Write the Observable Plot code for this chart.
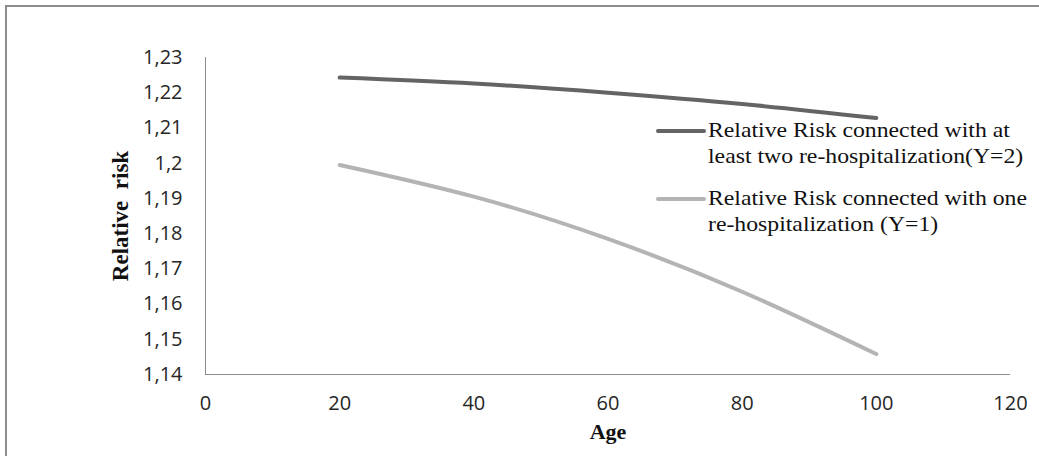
<!DOCTYPE html>
<html>
<head>
<meta charset="utf-8">
<script src="https://cdn.jsdelivr.net/npm/d3@7"></script>
<script src="https://cdn.jsdelivr.net/npm/@observablehq/plot@0.6"></script>
<style>
  html, body { margin: 0; padding: 0; background: #fff; }
  #wrap { position: relative; width: 1039px; height: 456px; overflow: hidden; background: #fff; }
  #frame { position: absolute; left: 5px; top: 5px; width: 1040px; height: 460px; border-left: 2px solid #8c8c8c; border-top: 2px solid #8c8c8c; box-sizing: border-box; }
  .leg { position: absolute; font-family: "Liberation Serif", "Times New Roman", serif; font-size: 21px; line-height: 26px; color: #111; white-space: nowrap; transform: scaleX(1.13); transform-origin: left top; }
  .sw { position: absolute; height: 4px; width: 50px; border-radius: 2px; }
  #chart { position: absolute; left: 0; top: 0; }
</style>
</head>
<body>
<div id="wrap">
  <div id="chart"></div>
  <div id="frame"></div>
  <div id="legend"></div>
</div>
<script>
const ages = [20, 40, 60, 80, 100];
const riskTwo = [1.2243, 1.2226, 1.2200, 1.2168, 1.2128];
const riskOne = [1.1995, 1.1905, 1.1785, 1.1635, 1.1458];
const seriesNames = [
  "Relative Risk connected with at least two re-hospitalization(Y=2)",
  "Relative Risk connected with one re-hospitalization (Y=1)"
];
const legendLines = [
  ["Relative Risk connected with at", "least two re-hospitalization(Y=2)"],
  ["Relative Risk connected with one", "re-hospitalization (Y=1)"]
];
const seriesColors = ["#646464", "#b4b4b4"];
const xTicks = [0, 20, 40, 60, 80, 100, 120];
const yTicks = [1.14, 1.15, 1.16, 1.17, 1.18, 1.19, 1.20, 1.21, 1.22, 1.23];

const rows = [];
ages.forEach((a, i) => {
  rows.push({age: a, risk: riskTwo[i], s: seriesNames[0]});
  rows.push({age: a, risk: riskOne[i], s: seriesNames[1]});
});

const fmt = d => String(+d.toFixed(2)).replace(".", ",");

const chart = Plot.plot({
  width: 1039,
  height: 456,
  marginLeft: 205,
  marginRight: 29,
  marginTop: 57,
  marginBottom: 82,
  style: {background: "transparent", fontFamily: "'Open Sans', sans-serif"},
  x: {domain: [0, 120]},
  y: {domain: [1.14, 1.23]},
  color: {domain: seriesNames, range: seriesColors},
  marks: [
    Plot.axisX({ticks: xTicks, tickSize: 0, tickPadding: 21, fontSize: 20, tickFormat: d => String(d), label: null, fill: "#262626"}),
    Plot.axisY({ticks: yTicks, tickSize: 0, tickPadding: 23, fontSize: 20, tickFormat: fmt, label: null, fill: "#262626"}),
    Plot.ruleX([0], {stroke: "#8c8c8c", strokeWidth: 1}),
    Plot.ruleY([1.14], {stroke: "#8c8c8c", strokeWidth: 1}),
    Plot.line(rows, {x: "age", y: "risk", z: "s", stroke: "s", strokeWidth: 4, curve: "natural", strokeLinecap: "round"}),
    Plot.text(["Relative  risk"], {frameAnchor: "left", rotate: -90, dx: -85, textAnchor: "middle", fontFamily: "'Liberation Serif', serif", fontWeight: "bold", fontSize: 23, fill: "#111"}),
    Plot.text(["Age"], {frameAnchor: "bottom", dy: 64, fontFamily: "'Liberation Serif', serif", fontWeight: "bold", fontSize: 22, fill: "#111"})
  ]
});
document.getElementById("chart").appendChild(chart);

const legend = document.getElementById("legend");
const legTops = [117, 185];
legendLines.forEach((lines, i) => {
  const sw = document.createElement("div");
  sw.className = "sw";
  sw.style.left = "656px";
  sw.style.top = (legTops[i] + 12) + "px";
  sw.style.background = seriesColors[i];
  legend.appendChild(sw);
  const t = document.createElement("div");
  t.className = "leg";
  t.style.left = "708px";
  t.style.top = legTops[i] + "px";
  t.innerHTML = lines.join("<br>");
  legend.appendChild(t);
});
</script>
</body>
</html>
